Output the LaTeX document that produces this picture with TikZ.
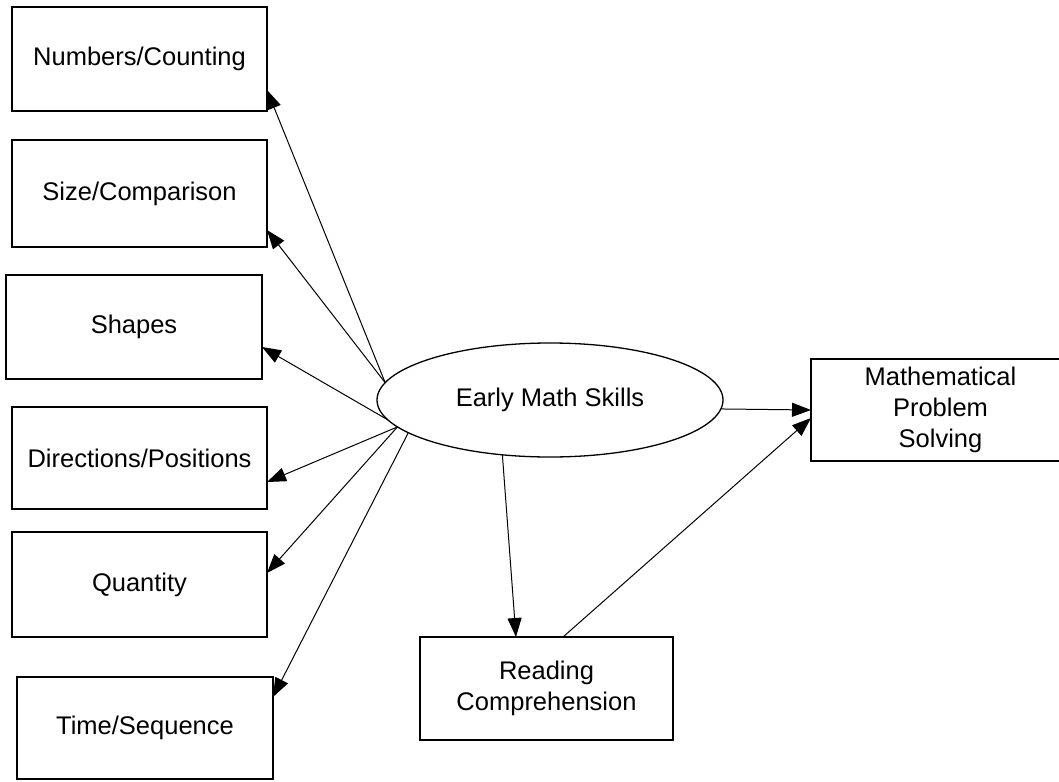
\documentclass[tikz,border=0pt]{standalone}
\usepackage{fontspec}
\setmainfont{Liberation Sans}
\usetikzlibrary{arrows.meta,shapes.geometric}
\begin{document}
\begin{tikzpicture}[x=1pt,y=-1pt,
  box/.style={draw, line width=1.3pt, inner sep=0pt, outer sep=0pt, align=center,
    font=\fontsize{25.5}{31}\selectfont},
  skill/.style={box, minimum width=255pt},
  link/.style={line width=1pt, -{Triangle[length=19pt,width=14pt]}}
]
\useasboundingbox (0,0) rectangle (1059,781);
\clip (0,0) rectangle (1059,781);

% skill boxes on the left
\node[skill, minimum height=104pt] (num) at (139.5,59) {Numbers/Counting};
\node[skill, minimum height=107pt] (size) at (139.5,193.5) {Size/Comparison};
\node[skill, minimum width=256pt, minimum height=104pt] (shp) at (134,327) {Shapes};
\node[skill, minimum height=102pt] (dir) at (139.5,458) {Directions/Positions};
\node[skill, minimum height=105pt] (qty) at (139.5,584.5) {Quantity};
\node[skill, minimum width=256pt, minimum height=102pt] (tim) at (145,728) {Time/Sequence};

% central construct and outcomes
\node[box, ellipse, minimum width=346pt, minimum height=114pt] (ems) at (550,400) {Early Math Skills};
\node[box, minimum width=253pt, minimum height=103pt] (read) at (546.5,688.5) {Reading\\Comprehension};
\node[box, minimum width=259pt, minimum height=102pt] (mps) at (940.5,410) {Mathematical\\Problem\\Solving};

% paths from early math skills to each component
\draw[link] (ems.174) -- ([yshift=21pt]num.south east);
\draw[link] (ems.174) -- ([yshift=17pt]size.south east);
\draw[link] (ems.187) -- ([yshift=32pt]shp.south east);
\draw[link] (ems.190) -- ([yshift=27pt]dir.south east);
\draw[link] (ems.190) -- ([yshift=64pt]qty.south east);
\draw[link] (ems.193) -- ([yshift=-20pt]tim.north east);

% structural paths
\draw[link] (ems.-3.3) -- (mps.west);
\draw[link] (ems.229) -- ([xshift=96pt]read.north west);
\draw[link] ([xshift=143pt]read.north west) -- ([yshift=-8pt]mps.west);
\end{tikzpicture}
\end{document}
